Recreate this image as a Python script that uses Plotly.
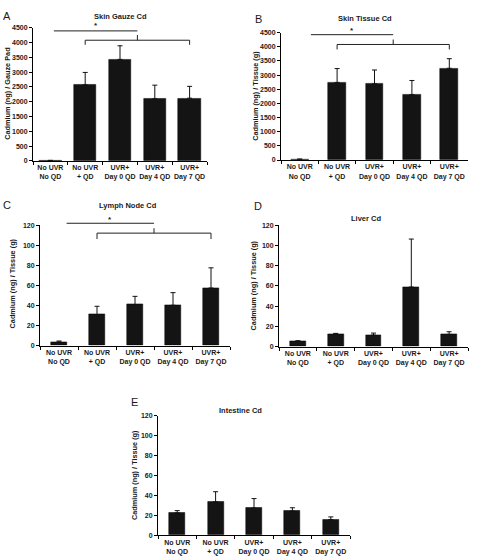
import plotly.graph_objects as go

W, H = 477, 556

categories = ["No UVR<br>No QD", "No UVR<br>+ QD", "UVR+<br>Day 0 QD", "UVR+<br>Day 4 QD", "UVR+<br>Day 7 QD"]

a_mean = [20, 2570, 3430, 2100, 2120]
a_err = [0, 420, 460, 460, 400]
b_mean = [30, 2740, 2690, 2310, 3240]
b_err = [0, 490, 490, 500, 340]
c_mean = [3.6, 31, 40.9, 40.2, 57.4]
c_err = [1.0, 8.2, 8.2, 12.6, 20.1]
d_mean = [4.9, 12.4, 11.4, 58.9, 12.1]
d_err = [1.0, 0.7, 2.0, 47.4, 2.6]
e_mean = [22.4, 33.5, 27.3, 24.3, 15.8]
e_err = [2.3, 10.2, 9.5, 3.3, 2.6]

titles = ["Skin Gauze Cd", "Skin Tissue Cd", "Lymph Node Cd", "Liver Cd", "Intestine Cd"]
ytitles = ["Cadmium (ng) / Gauze Pad", "Cadmium (ng) / Tissue (g)", "Cadmium (ng) / Tissue (g)",
           "Cadmium (ng) / Tissue (g)", "Cadmium (ng) / Tissue (g)"]
letters = ["A", "B", "C", "D", "E"]
yranges = [4500, 4500, 120, 120, 120]
ydticks = [500, 500, 20, 20, 20]

# layout geometry in pixels: (left, right, top, bottom)
boxes = [(33, 207, 24, 159), (281, 468, 29, 158), (40, 230, 224, 346),
         (279, 468, 224, 347), (158, 350, 417, 538)]
bar_widths = [0.64, 0.48, 0.42, 0.42, 0.42]
title_pos = [(120, 13), (365, 15), (128, 204), (366, 217), (240, 412)]
letter_pos = [(7, 12), (258, 15), (7, 204), (258, 205), (134, 403)]
ytitle_pos = [(8, 91), (256, 93), (12, 283), (253, 285), (135, 477)]

means = [a_mean, b_mean, c_mean, d_mean, e_mean]
errs = [a_err, b_err, c_err, d_err, e_err]

FONT = "Liberation Sans, Arial, sans-serif"
TXT = "#1a1a1a"
fx = lambda px: px / W
fy = lambda py: 1 - py / H

fig = go.Figure()
layout = dict(width=W, height=H, margin=dict(l=0, r=0, t=0, b=0),
              paper_bgcolor="white", plot_bgcolor="white", showlegend=False,
              bargap=0)
annotations = []
shapes = []

for i in range(5):
    sfx = "" if i == 0 else str(i + 1)
    fig.add_trace(go.Bar(
        x=categories, y=means[i], width=bar_widths[i],
        marker=dict(color="#141414", line=dict(color="#000", width=0.5)),
        error_y=dict(type="data", symmetric=False, array=errs[i], arrayminus=[0] * 5,
                     color="#111", thickness=1, width=2.5),
        xaxis="x" + sfx, yaxis="y" + sfx))
    l, r, t, b = boxes[i]
    layout["xaxis" + sfx] = dict(
        domain=[fx(l), fx(r)], anchor="y" + sfx, type="category",
        categoryorder="array", categoryarray=categories, tickangle=0,
        tickson="boundaries", ticks="outside", ticklen=3, tickwidth=1, tickcolor="#000",
        showline=True, linecolor="#000", linewidth=1, showgrid=False, zeroline=False,
        tickfont=dict(family=FONT, size=7, color=TXT, weight="bold"),
        range=[-0.5, 4.5])
    layout["yaxis" + sfx] = dict(
        domain=[fy(b), fy(t)], anchor="x" + sfx, range=[0, yranges[i]], dtick=ydticks[i],
        ticks="outside", ticklen=3, tickwidth=1, tickcolor="#000",
        showline=True, linecolor="#000", linewidth=1, showgrid=False, zeroline=False,
        tickfont=dict(family=FONT, size=7, color=TXT, weight="bold"))
    tx, ty = title_pos[i]
    annotations.append(dict(text=titles[i], x=fx(tx), y=fy(ty), xref="paper", yref="paper",
                            showarrow=False, xanchor="center", yanchor="middle",
                            font=dict(family=FONT, size=7.5, color=TXT, weight="bold")))
    lx, ly = letter_pos[i]
    annotations.append(dict(text=letters[i], x=fx(lx), y=fy(ly), xref="paper", yref="paper",
                            showarrow=False, xanchor="center", yanchor="middle",
                            font=dict(family=FONT, size=11, color=TXT)))
    ax_, ay_ = ytitle_pos[i]
    annotations.append(dict(text=ytitles[i], x=fx(ax_), y=fy(ay_), xref="paper", yref="paper",
                            showarrow=False, xanchor="center", yanchor="middle", textangle=-90,
                            font=dict(family=FONT, size=7.3, color=TXT, weight="bold")))

# significance brackets (panels A, B, C): (line_x0, line_y, bracket_y, bracket_end_y, peak_y, star_y)
sig = {0: (0.1, 0.976, 0.906, 0.872, 0.945, 1.02),
       1: (0.3, 0.984, 0.907, 0.868, 0.946, 1.02),
       2: (0.2, 1.016, 0.934, 0.885, 0.975, 1.05)}
for i, (x0, yl, yb, ye, yp, ys) in sig.items():
    sfx = "" if i == 0 else str(i + 1)
    xr, yr = "x" + sfx, "y" + sfx + " domain"
    ln = dict(color="#222", width=1)
    shapes.append(dict(type="line", xref=xr, yref=yr, x0=x0, x1=2.5, y0=yl, y1=yl, line=ln))
    shapes.append(dict(type="line", xref=xr, yref=yr, x0=1, x1=4, y0=yb, y1=yb, line=ln))
    shapes.append(dict(type="line", xref=xr, yref=yr, x0=1, x1=1, y0=yb, y1=ye, line=ln))
    shapes.append(dict(type="line", xref=xr, yref=yr, x0=4, x1=4, y0=yb, y1=ye, line=ln))
    shapes.append(dict(type="line", xref=xr, yref=yr, x0=2.5, x1=2.5, y0=yb, y1=yp, line=ln))
    annotations.append(dict(text="*", x=(x0 + 2.5) / 2, y=ys, xref=xr, yref=yr, showarrow=False,
                            xanchor="center", yanchor="middle",
                            font=dict(family=FONT, size=8, color=TXT, weight="bold")))

layout["annotations"] = annotations
layout["shapes"] = shapes
fig.update_layout(**layout)
fig.write_html("out.html")
